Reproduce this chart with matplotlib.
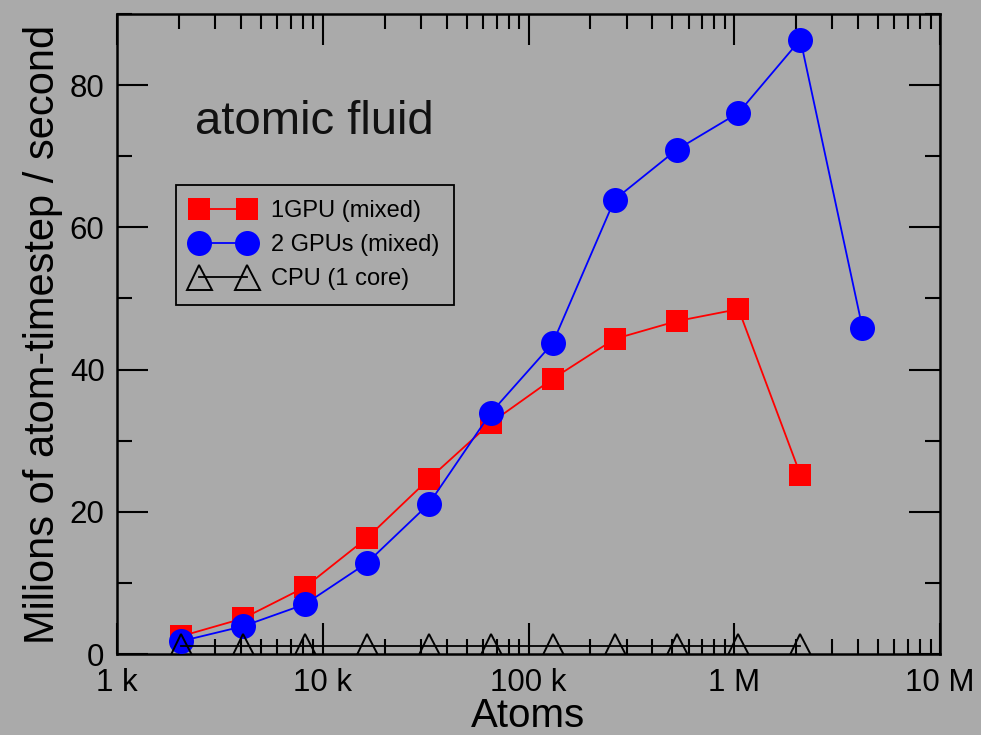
import matplotlib
matplotlib.use("Agg")
import matplotlib.pyplot as plt
from matplotlib.ticker import FixedLocator, LogLocator, NullFormatter, MultipleLocator

plt.rcParams['font.family'] = ['Liberation Sans', 'DejaVu Sans']

# system sizes (atoms)
atoms = [2048, 4096, 8192, 16384, 32768, 65536, 131072, 262144,
         524288, 1048576, 2097152, 4194304]

# performance in millions of atom-timesteps per second
gpu1 = [2.5, 5.0, 9.4, 16.3, 24.6, 32.5, 38.7, 44.3, 46.8, 48.5, 25.2]
gpu2 = [1.8, 3.9, 7.0, 12.8, 21.1, 33.9, 43.7, 63.9, 70.9, 76.1, 86.4, 45.9]
cpu = [1.1, 1.1, 1.1, 1.1, 1.1, 1.1, 1.1, 1.1, 1.1, 1.1, 1.1]

xtick_vals = [1e3, 1e4, 1e5, 1e6, 1e7]
xtick_labels = ['1 k', '10 k', '100 k', '1 M', '10 M']

bg = '#aaaaaa'

fig = plt.figure(figsize=(9.81, 7.35), dpi=100, facecolor=bg)
ax = fig.add_axes([0.1193, 0.1102, 0.8389, 0.8708], facecolor=bg)

ax.plot(atoms[:len(gpu1)], gpu1, color='red', lw=1.3, marker='s',
        markersize=16, markeredgewidth=0, label='1GPU (mixed)', zorder=3)
ax.plot(atoms[:len(gpu2)], gpu2, color='blue', lw=1.3, marker='o',
        markersize=18, markeredgewidth=0, label='2 GPUs (mixed)', zorder=4)
ax.plot(atoms[:len(cpu)], cpu, color='black', lw=1.3, marker='^',
        markersize=18, markerfacecolor='none', markeredgecolor='black',
        markeredgewidth=1.4, label='CPU (1 core)', zorder=5)

ax.set_xscale('log')
ax.set_xlim(1e3, 1e7)
ax.set_ylim(0, 90)

ax.xaxis.set_major_locator(FixedLocator(xtick_vals))
ax.set_xticklabels(xtick_labels)
ax.xaxis.set_minor_locator(LogLocator(base=10, subs=range(2, 10), numticks=20))
ax.xaxis.set_minor_formatter(NullFormatter())
ax.yaxis.set_major_locator(MultipleLocator(20))
ax.yaxis.set_minor_locator(MultipleLocator(10))

ax.tick_params(which='both', direction='in', top=True, right=True,
               labelsize=22.5, colors='black', width=1.5)
ax.tick_params(which='major', length=22)
ax.tick_params(which='minor', length=11)
ax.tick_params(axis='x', which='major', pad=10)
ax.tick_params(axis='y', which='major', pad=9)
for s in ax.spines.values():
    s.set_linewidth(1.8)

ax.set_xlabel('Atoms', fontsize=29, labelpad=-1)
ax.set_ylabel('Milions of atom-timestep / second', fontsize=30, labelpad=5)

ax.text(0.095, 0.813, 'atomic fluid', transform=ax.transAxes,
        fontsize=34, color='#111111')

leg = ax.legend(loc='upper left', bbox_to_anchor=(0.072, 0.733), numpoints=2,
                handlelength=2.65, fontsize=17, frameon=True, fancybox=False,
                edgecolor='black', facecolor=bg, framealpha=1,
                borderpad=0.65, labelspacing=0.5, handletextpad=0.7,
                markerscale=1.0, borderaxespad=0)
leg.get_frame().set_linewidth(1.3)

fig.savefig('out.png', dpi=100, facecolor=bg)
